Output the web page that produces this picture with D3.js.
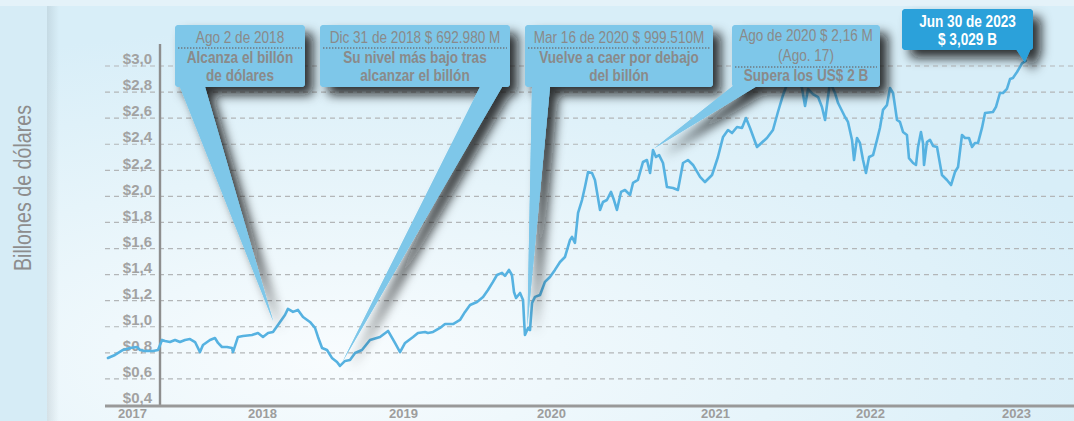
<!DOCTYPE html>
<html><head><meta charset="utf-8">
<script src="https://cdn.jsdelivr.net/npm/d3@7"></script>
<style>html,body{margin:0;padding:0;background:#d9eef8;overflow:hidden}</style>
</head><body><svg id="c" width="1074" height="421"></svg>
<script>
// ---------- DATA ----------
const yearLabels = [2017, 2018, 2019, 2020, 2021, 2022, 2023];
const yTicks = [0.4, 0.6, 0.8, 1.0, 1.2, 1.4, 1.6, 1.8, 2.0, 2.2, 2.4, 2.6, 2.8, 3.0];
const dates = [
2017.315,2017.369,2017.431,2017.485,2017.538,2017.562,2017.600,2017.662,2017.700,2017.731,2017.754,2017.792,2017.831,2017.869,2017.908,2017.946,2017.985,2018.023,2018.046,2018.100,2018.138,2018.162,2018.192,2018.231,2018.269,2018.277,2018.315,2018.354,2018.423,2018.469,
2018.507,2018.543,2018.578,2018.628,2018.663,2018.684,2018.720,2018.755,2018.791,2018.840,2018.876,2018.897,2018.926,2018.961,2018.996,2019.032,2019.053,2019.089,2019.124,2019.160,2019.209,2019.266,2019.337,2019.394,2019.443,2019.479,
2019.514,2019.568,2019.601,2019.649,2019.669,2019.703,2019.750,2019.784,2019.838,2019.885,2019.919,2019.953,2020.000,2020.041,2020.074,2020.108,2020.135,2020.169,2020.189,2020.216,2020.236,2020.250,2020.264,2020.291,2020.311,2020.318,2020.324,2020.345,2020.358,2020.372,2020.392,2020.426,2020.459,2020.493,
2020.524,2020.555,2020.585,2020.616,2020.628,2020.646,2020.665,2020.689,2020.707,2020.726,2020.750,2020.768,2020.799,2020.817,2020.841,2020.866,2020.884,2020.902,2020.927,2020.951,2020.982,2021.000,2021.030,2021.061,2021.085,2021.104,2021.122,2021.140,2021.159,2021.183,2021.207,2021.244,2021.274,2021.305,2021.335,2021.366,2021.409,2021.439,2021.482,
2021.519,2021.552,2021.584,2021.610,2021.642,2021.674,2021.700,2021.726,2021.771,2021.835,2021.874,2021.906,2021.939,2021.958,2021.984,2022.016,2022.042,2022.061,2022.081,2022.100,2022.132,2022.165,2022.190,2022.210,2022.229,2022.242,2022.274,2022.294,2022.339,2022.358,2022.384,2022.397,2022.416,2022.435,2022.455,2022.474,2022.494,
2022.521,2022.548,2022.568,2022.589,2022.616,2022.637,2022.658,2022.685,2022.705,2022.726,2022.753,2022.767,2022.795,2022.815,2022.829,2022.849,2022.863,2022.870,2022.890,2022.911,2022.932,2022.959,2022.993,2023.027,2023.055,2023.082,2023.103,2023.130,2023.151,2023.178,2023.199,2023.219,2023.240,2023.267,2023.288,2023.342,2023.363,2023.390,2023.411,2023.438,2023.459,2023.479,2023.507,2023.541,2023.568
];
const values = [
0.761,0.784,0.822,0.837,0.845,0.822,0.814,0.814,0.822,0.899,0.891,0.883,0.899,0.883,0.899,0.906,0.883,0.806,0.860,0.899,0.914,0.876,0.845,0.845,0.837,0.806,0.922,0.929,0.937,0.952,
0.922,0.952,0.960,1.037,1.090,1.137,1.114,1.129,1.075,1.037,0.991,0.922,0.837,0.822,0.761,0.730,0.700,0.738,0.745,0.799,0.822,0.899,0.922,0.968,0.876,0.806,
0.876,0.922,0.952,0.960,0.952,0.960,0.991,1.021,1.021,1.052,1.114,1.167,1.190,1.229,1.282,1.344,1.397,1.413,1.390,1.436,1.397,1.267,1.221,1.259,1.206,1.052,0.937,0.991,0.975,1.183,1.229,1.244,1.344,1.382,
1.436,1.497,1.535,1.666,1.689,1.643,1.873,1.972,2.072,2.187,2.179,2.126,1.896,1.957,1.972,2.034,1.972,1.896,2.034,2.049,2.011,2.103,2.126,2.264,2.279,2.179,2.356,2.302,2.317,2.256,2.072,2.064,2.049,2.256,2.279,2.241,2.149,2.110,2.164,
2.302,2.456,2.509,2.486,2.532,2.525,2.601,2.525,2.379,2.448,2.509,2.647,2.778,2.839,2.923,2.954,2.893,2.831,2.693,2.824,2.785,2.762,2.686,2.586,2.762,2.877,2.793,2.716,2.609,2.571,2.433,2.279,2.448,2.410,2.279,2.179,2.302,
2.317,2.433,2.525,2.663,2.700,2.831,2.793,2.586,2.571,2.494,2.471,2.294,2.256,2.241,2.379,2.494,2.410,2.241,2.417,2.433,2.387,2.379,2.164,2.126,2.087,2.187,2.225,2.471,2.448,2.448,2.379,2.410,2.410,2.525,2.640,2.647,2.686,2.793,2.793,2.824,2.900,2.908,2.954,3.020,3.040
];
const annotDates  = [2018.58, 2019.07, 2020.34, 2021.13, 2023.56];
const annotValues = [1.04, 0.73, 1.00, 2.37, 3.03];
const annotHeads  = [["Ago 2 de 2018"], ["Dic 31 de 2018 $ 692.980 M"], ["Mar 16 de 2020 $ 999.510M"], ["Ago de 2020 $ 2,16 M", "(Ago. 17)"], ["Jun 30 de 2023", "$ 3,029 B"]];
const annotBodies = [["Alcanza el billón", "de dólares"], ["Su nivel más bajo tras", "alcanzar el billón"], ["Vuelve a caer por debajo", "del billón"], ["Supera los US$ 2 B"], []];
const yTitle = "Billones de dólares";

// ---------- LAYOUT ----------
const W = 1074, H = 421;
const svg = d3.select("#c");
const FONT = "'Liberation Sans', Arial, sans-serif";
const defs = svg.append("defs");

const rg = defs.append("radialGradient").attr("id", "bg").attr("cx", 0.28).attr("cy", 0.85).attr("r", 0.8);
rg.append("stop").attr("offset", 0).attr("stop-color", "#f8fcfe");
rg.append("stop").attr("offset", 0.55).attr("stop-color", "#e6f4fa");
rg.append("stop").attr("offset", 1).attr("stop-color", "#d8eef8");

const lg = defs.append("linearGradient").attr("id", "edge").attr("x1", 0).attr("x2", 1);
lg.append("stop").attr("offset", 0).attr("stop-color", "#7a8a92").attr("stop-opacity", 0.2);
lg.append("stop").attr("offset", 1).attr("stop-color", "#7a8a92").attr("stop-opacity", 0);

const f = defs.append("filter").attr("id", "sh").attr("x", "-30%").attr("y", "-30%").attr("width", "170%").attr("height", "170%");
f.append("feDropShadow").attr("dx", 8).attr("dy", 8).attr("stdDeviation", 5.5)
  .attr("flood-color", "#111").attr("flood-opacity", 0.85);

svg.append("rect").attr("width", W).attr("height", H).attr("fill", "#d6ecf6");
svg.append("rect").attr("x", 47).attr("y", 6).attr("width", W - 47).attr("height", H - 6).attr("fill", "url(#bg)");
svg.append("rect").attr("x", 47).attr("y", 6).attr("width", 12).attr("height", H - 6).attr("fill", "url(#edge)");
svg.append("rect").attr("x", 0).attr("y", 0).attr("width", W).attr("height", 6).attr("fill", "#e4f2f9");

const x = d3.scaleLinear()
  .domain(yearLabels.map(d => d + 0.5))
  .range([132, 262, 403, 551, 715, 870, 1016]);
const y = d3.scaleLinear().domain([0.4, 3.0]).range([405, 66]);

// gridlines
svg.append("g").selectAll("line").data(yTicks.filter(d => d > 0.4)).join("line")
  .attr("x1", 105).attr("x2", W)
  .attr("y1", d => y(d)).attr("y2", d => y(d))
  .attr("stroke", "#b3b6b8").attr("stroke-width", 1.2).attr("stroke-dasharray", "5,4");

// y axis
const ya = svg.append("g").attr("transform", "translate(160,0)")
  .call(d3.axisLeft(y).tickValues(yTicks).tickSize(0).tickPadding(8)
    .tickFormat(d => "$" + d3.format(".1f")(d).replace(".", ",")));
ya.select(".domain").remove();
ya.selectAll("text").attr("dy", "-0.15em").attr("font-family", FONT).attr("font-size", 15)
  .attr("font-weight", "bold").attr("fill", "#a2a2a2");
svg.append("line").attr("x1", 160).attr("x2", 160).attr("y1", 44).attr("y2", 406)
  .attr("stroke", "#8e8e8e").attr("stroke-width", 2.4);

// x axis
const xa = svg.append("g").attr("transform", "translate(0,406)")
  .call(d3.axisBottom(x).tickValues(yearLabels.map(d => d + 0.5)).tickSize(0)
    .tickFormat(d => String(Math.floor(d))));
xa.select(".domain").remove();
xa.selectAll("text").attr("y", 12).attr("dy", 0).attr("font-family", FONT).attr("font-size", 13)
  .attr("font-weight", "bold").attr("fill", "#9d9d9d");
svg.append("line").attr("x1", 105).attr("x2", W).attr("y1", 406).attr("y2", 406)
  .attr("stroke", "#999").attr("stroke-width", 3);

// y title
svg.append("text").attr("transform", "translate(31,188) rotate(-90) scale(0.82,1)")
  .attr("text-anchor", "middle").attr("font-family", FONT).attr("font-size", 24)
  .attr("fill", "#8d8d8d").text(yTitle);

// series line
const series = dates.map((d, i) => [d, values[i]]);
svg.append("path").datum(series)
  .attr("d", d3.line().x(d => x(d[0])).y(d => y(d[1])))
  .attr("fill", "none").attr("stroke", "#56b2e1").attr("stroke-width", 2.6)
  .attr("stroke-linejoin", "round").attr("stroke-linecap", "round");

// ---------- ANNOTATIONS ----------
const boxes = [
  {x: 175, y: 25, w: 130, h: 62, base: [[180, 87], [205, 87]], fill: "#7ec7e9", color: "#8a8a8a", head: [43], sep: 48, body: [63, 81]},
  {x: 320, y: 25, w: 190, h: 62, base: [[480, 87], [502, 87]], fill: "#7ec7e9", color: "#8a8a8a", head: [43], sep: 48, body: [63, 81]},
  {x: 525, y: 25, w: 188, h: 62, base: [[532, 87], [550, 87]], fill: "#7ec7e9", color: "#8a8a8a", head: [43], sep: 48, body: [63, 81]},
  {x: 732, y: 25, w: 148, h: 62, base: [[733, 86], [757, 86]], fill: "#7ec7e9", color: "#8a8a8a", head: [41, 61], sep: 67, body: [81]},
  {x: 902, y: 9, w: 131, h: 41, base: [[1016, 49], [1032, 46]], fill: "#2ba1da", color: "#ffffff", head: [27, 45], sep: null, body: [], bold: true}
];

function txt(g, cx, yy, s, bold, color) {
  g.append("text").attr("transform", `translate(${cx},${yy}) scale(0.85,1)`)
    .attr("text-anchor", "middle").attr("font-family", FONT).attr("font-size", 16)
    .attr("font-weight", bold ? "bold" : "normal").attr("fill", color).text(s);
}

boxes.forEach((b, i) => {
  const tip = [x(annotDates[i]), y(annotValues[i])];
  const pts = [b.base[0], b.base[1], tip].map(p => p.join(",")).join(" ");
  const g = svg.append("g").attr("filter", "url(#sh)");
  g.append("polygon").attr("points", pts).attr("fill", b.fill);
  g.append("rect").attr("x", b.x).attr("y", b.y).attr("width", b.w).attr("height", b.h)
    .attr("rx", 4).attr("fill", b.fill);
  svg.append("polygon").attr("points", pts).attr("fill", b.fill);
  svg.append("rect").attr("x", b.x).attr("y", b.y).attr("width", b.w).attr("height", b.h)
    .attr("rx", 4).attr("fill", b.fill);
  const t = svg.append("g");
  const cx = b.x + b.w / 2;
  annotHeads[i].forEach((s, k) => txt(t, cx, b.head[k], s, !!b.bold, b.color));
  if (b.sep) {
    t.append("line").attr("x1", b.x + 3).attr("x2", b.x + b.w - 3).attr("y1", b.sep).attr("y2", b.sep)
      .attr("stroke", "#6f7a80").attr("stroke-width", 1.4).attr("stroke-dasharray", "1.4,1.6");
  }
  annotBodies[i].forEach((s, k) => txt(t, cx, b.body[k], s, true, b.color));
});
</script></body></html>
